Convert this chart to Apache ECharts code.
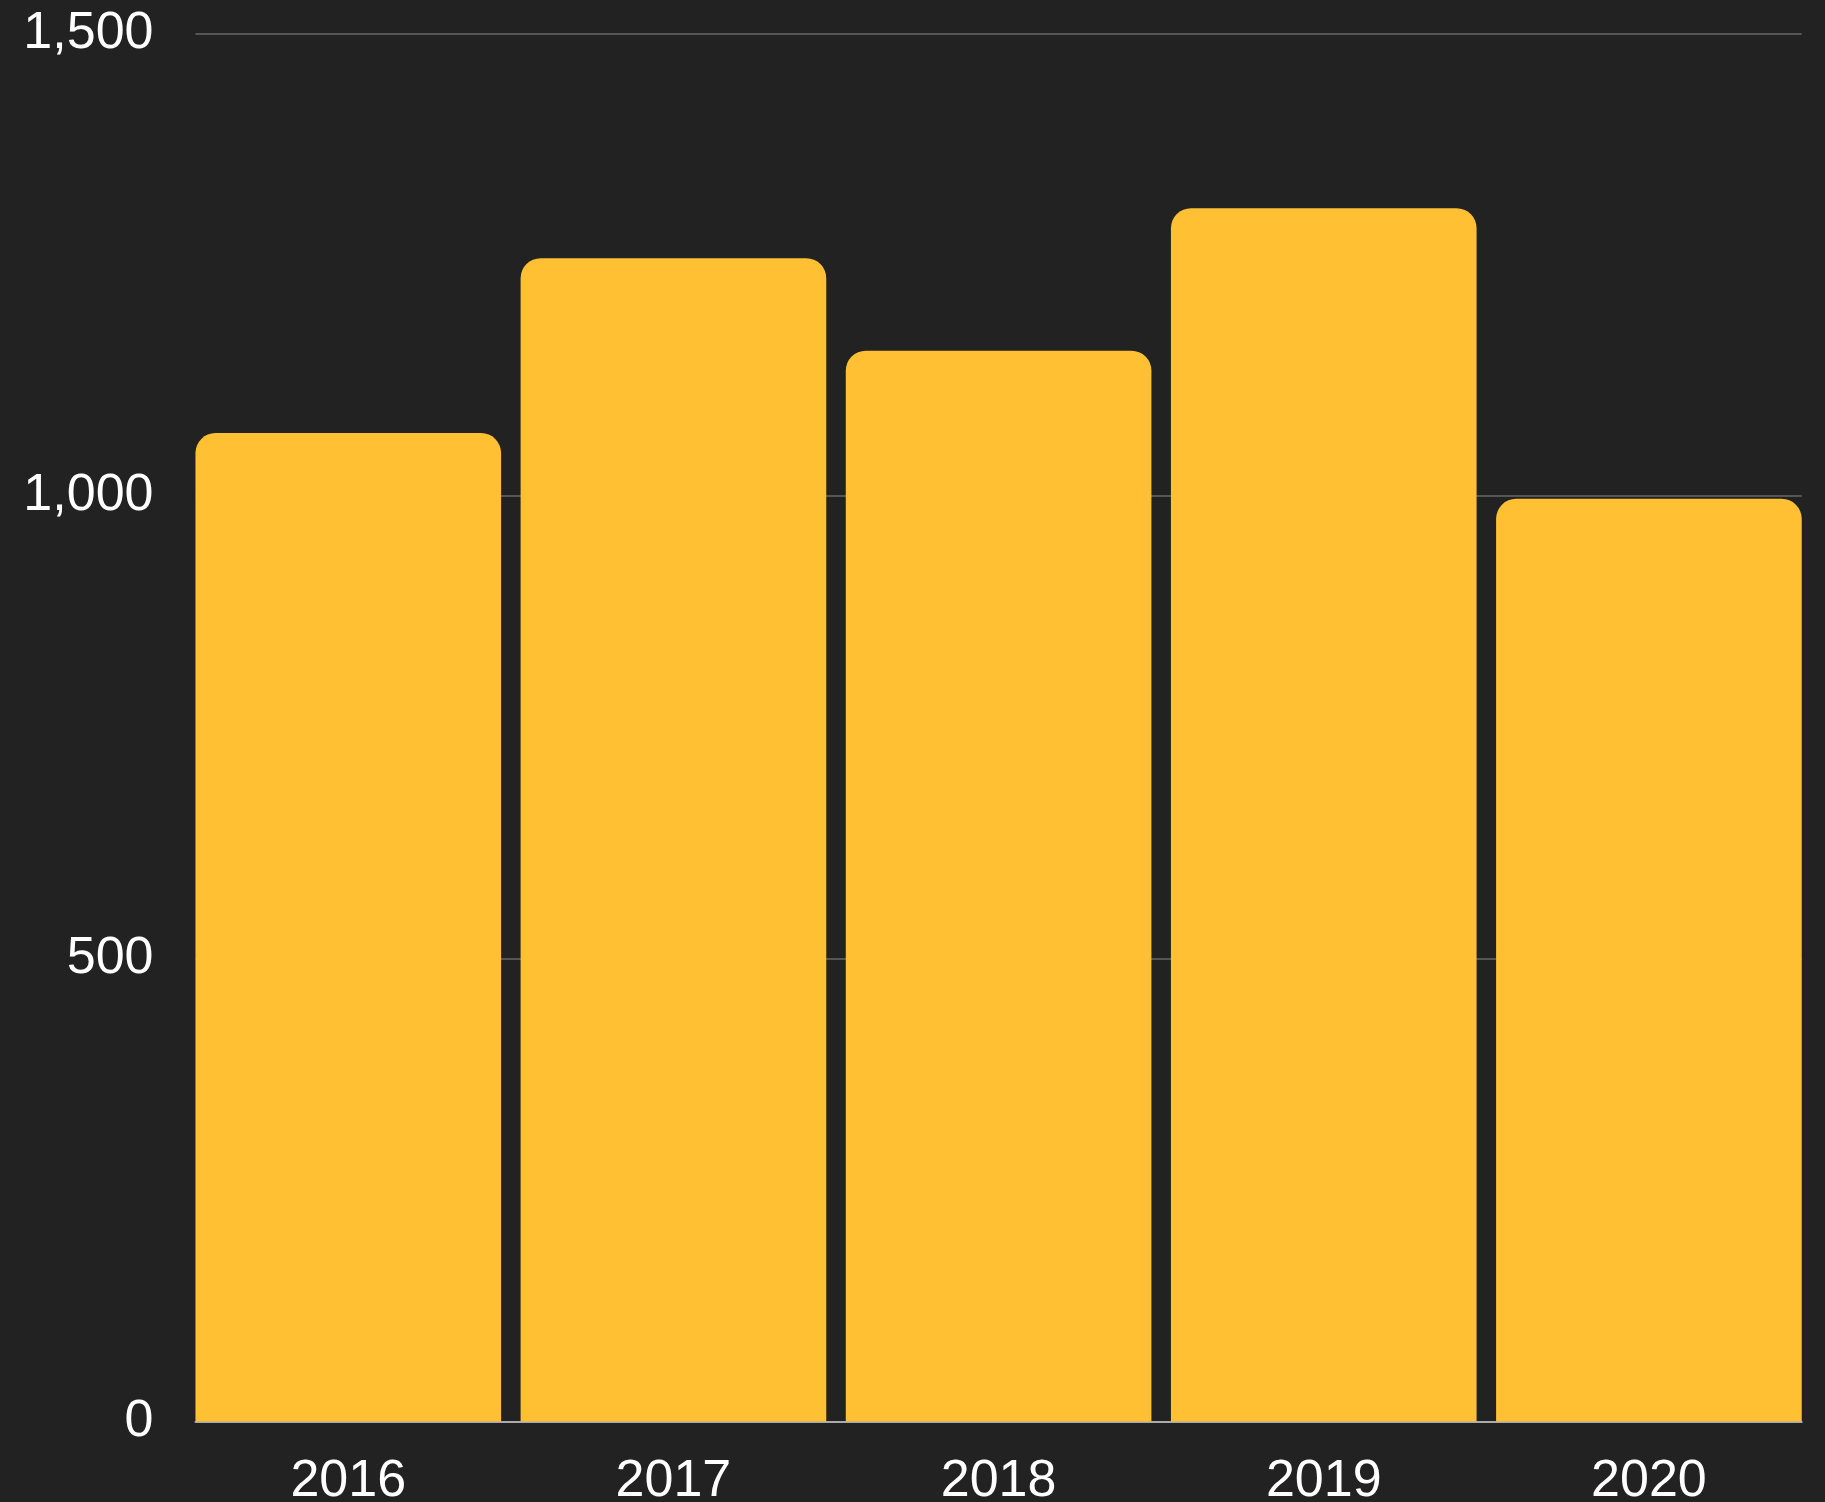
<!DOCTYPE html>
<html>
<head>
<meta charset="utf-8">
<script src="https://cdn.jsdelivr.net/npm/echarts@6/dist/echarts.min.js"></script>
<style>
  html, body { margin: 0; padding: 0; background: #222222; }
  #chart { width: 1825px; height: 1502px; }
</style>
</head>
<body>
<div id="chart"></div>
<script>
const years = ['2016', '2017', '2018', '2019', '2020'];
const values = [1068, 1257, 1157, 1311, 997];
const yTicks = [0, 500, 1000, 1500];

const chart = echarts.init(document.getElementById('chart'));

// grid 0 carries the y axis, gridlines and the base line
// grid 1 is a bit wider so the bars sit flush with the plot edges
const option = {
    backgroundColor: '#222222',
    animation: false,
    grid: [
        { left: 195.5, right: 23.3, top: 33.3, bottom: 80.5, outerBoundsMode: 'none' },
        { left: 185.7, right: 13.5, top: 33.3, bottom: 80.5, outerBoundsMode: 'none' }
    ],
    xAxis: [
        {
            type: 'category',
            gridIndex: 0,
            data: years,
            axisLine: { show: true, lineStyle: { color: '#aaaaaa', width: 2 } },
            axisTick: { show: false },
            axisLabel: { show: false }
        },
        {
            type: 'category',
            gridIndex: 1,
            data: years,
            axisLine: { show: false },
            axisTick: { show: false },
            axisLabel: {
                color: '#ffffff',
                fontSize: 52,
                fontFamily: 'Liberation Sans',
                margin: 34
            }
        }
    ],
    yAxis: [
        {
            type: 'value',
            gridIndex: 0,
            min: yTicks[0],
            max: yTicks[yTicks.length - 1],
            interval: 500,
            axisLine: { show: false },
            axisTick: { show: false },
            splitLine: { lineStyle: { color: '#555555', width: 2 } },
            axisLabel: {
                color: '#ffffff',
                fontSize: 52,
                fontFamily: 'Liberation Sans',
                margin: 42,
                formatter: (v) => v.toLocaleString('en-US')
            }
        },
        {
            type: 'value',
            gridIndex: 1,
            min: yTicks[0],
            max: yTicks[yTicks.length - 1],
            interval: 500,
            show: false,
            splitLine: { show: false }
        }
    ],
    series: [
        {
            type: 'bar',
            xAxisIndex: 1,
            yAxisIndex: 1,
            data: values,
            barCategoryGap: '6%',
            itemStyle: { color: '#ffc034', borderRadius: [20, 20, 0, 0] }
        }
    ]
};

chart.setOption(option);
</script>
</body>
</html>
